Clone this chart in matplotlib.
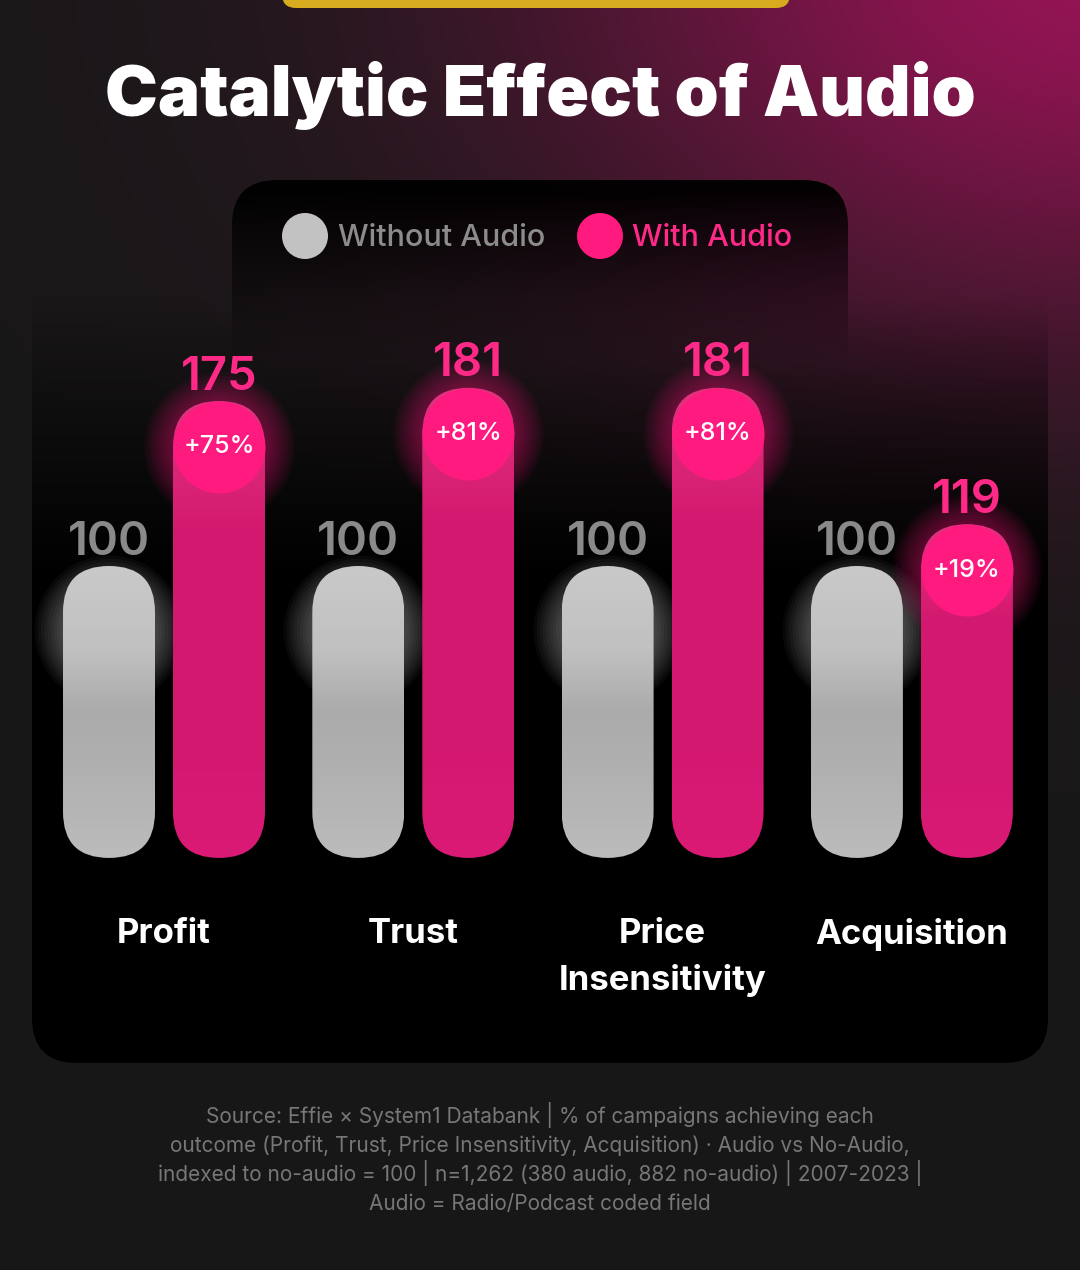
import numpy as np
import matplotlib.pyplot as plt
from matplotlib.patches import FancyBboxPatch, Circle
from matplotlib.colors import LinearSegmentedColormap, to_rgb
from matplotlib import transforms

# datos
categories = ['Profit', 'Trust', 'Price\nInsensitivity', 'Acquisition']
without_audio = [100, 100, 100, 100]
with_audio = [175, 181, 181, 119]
uplift_labels = ['+75%', '+81%', '+81%', '+19%']
series_names = ['Without Audio', 'With Audio']
title = 'Catalytic Effect of Audio'
source_lines = [
    'Source: Effie × System1 Databank | % of campaigns achieving each',
    'outcome (Profit, Trust, Price Insensitivity, Acquisition) · Audio vs No-Audio,',
    'indexed to no-audio = 100 | n=1,262 (380 audio, 882 no-audio) | 2007-2023 |',
    'Audio = Radio/Podcast coded field',
]

FONT = ['Inter', 'DejaVu Sans']
plt.rcParams['font.family'] = FONT

GREY = '#c2c2c2'
PINK = '#ff1a80'

W, H = 1080, 1270
fig = plt.figure(figsize=(W / 100, H / 100), dpi=100)

# fondo (coordenadas en pixeles)
bg = fig.add_axes([0, 0, 1, 1])
bg.set_xlim(0, W)
bg.set_ylim(H, 0)
bg.axis('off')

yy, xx = np.mgrid[0:H, 0:W]
glow = np.exp(-(((xx - 1110) / 560.0) ** 2 + ((yy + 40) / 380.0) ** 2))
base = np.array(to_rgb('#181818'))
mag = np.array([0.58, 0.08, 0.33])
img = base + glow[..., None] * (mag - base)
bg.imshow(np.clip(img, 0, 1), extent=(0, W, H, 0), aspect='auto', zorder=0)

# pastilla amarilla arriba
bg.add_patch(FancyBboxPatch((282, -30), 508, 38, boxstyle='round,pad=0,rounding_size=14',
                            fc='#d6ab1e', ec='none', zorder=1))


def faded_box(x0, y0, w, h, a_top, a_bot, y_a, y_b):
    # caja negra redondeada con transparencia vertical
    box = FancyBboxPatch((x0, y0), w, h, boxstyle='round,pad=0,rounding_size=45',
                         fc='none', ec='none', zorder=1)
    bg.add_patch(box)
    ys = np.linspace(y0, y0 + h, 400)
    t = np.clip((ys - y_a) / (y_b - y_a), 0, 1)
    arr = np.zeros((400, 2, 4))
    arr[..., 3] = (a_top + (a_bot - a_top) * t)[:, None]
    im = bg.imshow(arr, extent=(x0, x0 + w, y0 + h, y0), aspect='auto', zorder=1)
    im.set_clip_path(box)


# panel negro con pestaña
faded_box(232, 180, 616, 500, 0.95, 0.0, 190, 360)
faded_box(32, 280, 1016, 783, 0.0, 1.0, 300, 580)

# titulo
bg.text(W / 2, 95, title, ha='center', va='center', color='white',
        fontsize=51, fontweight='black')

# leyenda
bg.add_patch(Circle((305, 236), 23, fc=GREY, ec='none', zorder=3))
bg.text(338, 238, series_names[0], ha='left', va='center', color='#8c8c8c',
        fontsize=22, fontweight='medium', zorder=3)
bg.add_patch(Circle((600, 236), 23, fc=PINK, ec='none', zorder=3))
bg.text(632, 238, series_names[1], ha='left', va='center', color='#ff2a88',
        fontsize=22, fontweight='medium', zorder=3)

# fuente
for i, line in enumerate(source_lines):
    bg.text(W / 2, 1123 + i * 29, line, ha='center', va='baseline',
            color='#777777', fontsize=15)

# barras
ax = fig.add_axes([0, 0, 1, 1])
ax.patch.set_alpha(0)
ax.axis('off')
g0, step = 164.0, 249.3
zero_px, ppu = 786.0, 2.2
xlim = (-g0 / step, (W - g0) / step)
ylim = ((zero_px - H) / ppu, zero_px / ppu)
ax.set_xlim(*xlim)
ax.set_ylim(*ylim)
BASE = -32.7
off = 0.2206
bw = 0.369

x = np.arange(len(categories))
wo = np.array(without_audio)
wi = np.array(with_audio)

asp = ((ylim[1] - ylim[0]) / H) / ((xlim[1] - xlim[0]) / W)
r_units = bw / 2 * asp

# 0 = arriba, 1 = abajo
grey_cmap = LinearSegmentedColormap.from_list('g', [
    (0, '#c9c9c9'), (0.28, '#c1c1c1'), (0.5, '#ababab'), (0.72, '#b1b1b1'), (1, '#bcbcbc')])
pink_cmap = LinearSegmentedColormap.from_list('p', [
    (0, '#e2337f'), (0.3, '#d3186f'), (0.7, '#d2186f'), (1, '#da1a75')])

bars_wo = ax.bar(x - off, wo - BASE, bottom=BASE, width=bw, color='none')
bars_wi = ax.bar(x + off, wi - BASE, bottom=BASE, width=bw, color='none')

grad = np.linspace(0, 1, 256)[:, None]
for bars, cmap in [(bars_wo, grey_cmap), (bars_wi, pink_cmap)]:
    for rect in bars:
        bx, by, w, h = rect.get_x(), rect.get_y(), rect.get_width(), rect.get_height()
        pill = FancyBboxPatch((bx, by), w, h, boxstyle=f'round,pad=0,rounding_size={w / 2}',
                              mutation_aspect=asp, fc='none', ec='none', zorder=3)
        ax.add_patch(pill)
        g = ax.imshow(grad, cmap=cmap, extent=(bx, bx + w, by, by + h), aspect='auto',
                      zorder=3, vmin=0, vmax=1)
        g.set_clip_path(pill)

ax.set_xlim(*xlim)
ax.set_ylim(*ylim)

# brillos
cap_wo = wo - r_units
cap_wi = wi - r_units
d_pt = 92 * 0.72
for k in range(10):
    s = (d_pt * (1 + 0.07 * k)) ** 2
    ax.scatter(x - off, cap_wo - 8, s=s, color='white', alpha=0.035, lw=0, zorder=2)
    ax.scatter(x + off, cap_wi, s=s, color=PINK, alpha=0.05, lw=0, zorder=2)

ax.scatter(x + off, cap_wi, s=d_pt ** 2, color=PINK, lw=0, zorder=4)
for xi, yi, lab in zip(x + off, cap_wi, uplift_labels):
    ax.text(xi, yi, lab, ha='center', va='center', color='white', fontsize=18,
            fontweight='medium', zorder=5)

for xi, v in zip(x - off, wo):
    ax.annotate(str(v), (xi, v), xytext=(0, 1), textcoords='offset points', ha='center',
                va='bottom', color='#8a8a8a', fontsize=34, fontweight='semibold', zorder=5)
for xi, v in zip(x + off, wi):
    ax.annotate(str(v), (xi, v), xytext=(0, 1), textcoords='offset points', ha='center',
                va='bottom', color='#ff2a88', fontsize=34, fontweight='semibold', zorder=5)

# etiquetas de categoria
tr = transforms.blended_transform_factory(ax.transData, bg.transData)
for xi, cat in zip(x, categories):
    ax.text(xi, 918, cat, transform=tr, ha='center', va='top', color='white',
            fontsize=25, fontweight='bold', linespacing=1.55, zorder=5)

fig.savefig('out.png', dpi=100, facecolor='#181818')
